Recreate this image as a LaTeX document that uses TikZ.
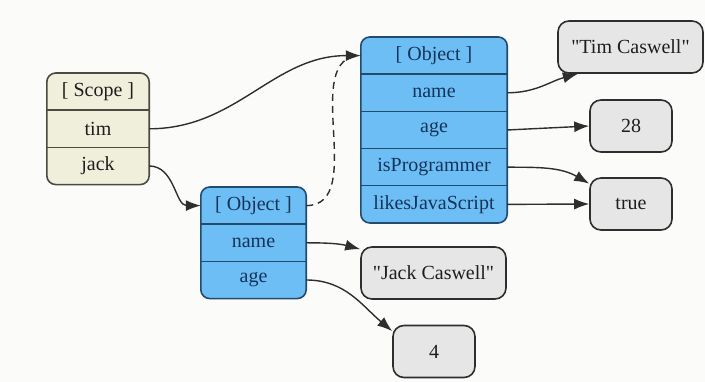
\documentclass[tikz,border=0pt]{standalone}
\usepackage{fontspec}
\setmainfont{Liberation Serif}
\usetikzlibrary{arrows.meta,positioning,fit,backgrounds}
\definecolor{paper}{HTML}{FBFBF9}
\definecolor{sky}{HTML}{6CBEF5}
\definecolor{skyline}{HTML}{234B6E}
\definecolor{skyink}{HTML}{16335A}
\definecolor{cream}{HTML}{EFEFDB}
\definecolor{creamline}{HTML}{4A4A40}
\definecolor{ink}{HTML}{1E1E1E}
\definecolor{mist}{HTML}{E6E6E6}
\definecolor{wire}{HTML}{2E2E2E}
\tikzset{
  cell/.style={minimum height=36.8pt, inner sep=0pt, anchor=north,
    font=\fontsize{20}{22}\selectfont},
  scopecell/.style={cell, minimum width=102pt, text=ink},
  objcell/.style={cell, text=skyink},
  record/.style={rounded corners=9pt, line width=1.6pt, inner sep=0pt},
  sep/.style={line width=1.4pt},
  value/.style={draw=wire, fill=mist, line width=1.6pt, rounded corners=11pt,
    minimum height=52pt, inner sep=0pt, text=ink,
    font=\fontsize{20}{22}\selectfont},
  arrow/.style={-{Latex[length=15pt,width=11pt]}, line width=1.4pt, draw=wire},
  link/.style={dash pattern=on 7pt off 5pt, line width=1.4pt, draw=wire}
}
\begin{document}
\begin{tikzpicture}[x=1pt,y=1pt]
  \useasboundingbox (0,0) rectangle (705,382);

  \node[scopecell] (sh) at (98,309) {[ Scope ]};
  \node[scopecell,below=0pt of sh] (tim) {tim};
  \node[scopecell,below=0pt of tim] (jack) {jack};

  \node[objcell,minimum width=146pt] (th) at (434,345) {[ Object ]};
  \node[objcell,minimum width=146pt,below=0pt of th] (tname) {name};
  \node[objcell,minimum width=146pt,below=0pt of tname] (tage) {age};
  \node[objcell,minimum width=146pt,below=0pt of tage] (tprog) {isProgrammer};
  \node[objcell,minimum width=146pt,below=0pt of tprog] (tjs) {likesJavaScript};

  \node[objcell,minimum width=105pt] (jh) at (253.5,195) {[ Object ]};
  \node[objcell,minimum width=105pt,below=0pt of jh] (jname) {name};
  \node[objcell,minimum width=105pt,below=0pt of jname] (jage) {age};

  \begin{scope}[on background layer]
    \fill[paper] (0,0) rectangle (705,382);
    \node[record,draw=creamline,fill=cream,fit=(sh)(jack)] (scope) {};
    \node[record,draw=skyline,fill=sky,fit=(th)(tjs)] (tobj) {};
    \node[record,draw=skyline,fill=sky,fit=(jh)(jage)] (jobj) {};
  \end{scope}
  \foreach \c in {sh,tim}
    \draw[sep,draw=creamline] (\c.south west) -- (\c.south east);
  \foreach \c in {th,tname,tage,tprog,jh,jname}
    \draw[sep,draw=skyline] (\c.south west) -- (\c.south east);

  \node[value,minimum width=145pt] (tcas) at (630.5,335) {\textquotedbl Tim Caswell\textquotedbl};
  \node[value,minimum width=82pt] (tw) at (631,256) {28};
  \node[value,minimum width=82pt] (tr) at (631,178) {true};
  \node[value,minimum width=145pt] (jcas) at (433.5,109) {\textquotedbl Jack Caswell\textquotedbl};
  \node[value,minimum width=82pt] (four) at (434,30.5) {4};

  \draw[arrow] (tim.east) to[out=0,in=180] (th.west);
  \draw[arrow] (jack.east) to[out=0,in=180] (jh.west);
  \draw[link] (jh.east) to[out=0,in=180] (th.west);
  \draw[arrow] (tname.east) to[out=0,in=195] (tcas.-153);
  \draw[arrow] (tage.east) -- (tw.west);
  \draw[arrow] (tprog.east) to[out=0,in=150] (tr.154);
  \draw[arrow] (tjs.east) -- (tr.west);
  \draw[arrow] (jname.east) to[out=0,in=165] (jcas.162);
  \draw[arrow] (jage.east) to[out=0,in=140] (four.154);
\end{tikzpicture}
\end{document}
